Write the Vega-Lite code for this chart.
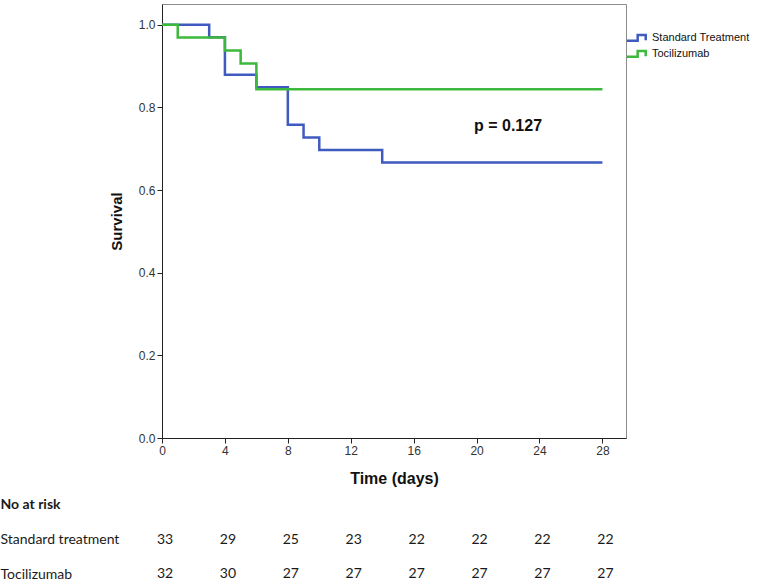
{
  "$schema": "https://vega.github.io/schema/vega-lite/v6.json",
  "padding": {"left": 0, "top": 3, "right": 0, "bottom": 0},
  "background": "white",
  "spacing": 10,
  "config": {
    "font": "Liberation Sans",
    "view": {"stroke": null}
  },
  "vconcat": [
    {
      "width": 464,
      "height": 434,
      "view": {"stroke": "#8c8c8c", "strokeWidth": 1},
      "layer": [
        {
          "data": {
            "values": [
              {"time": 0, "survival": 1.0, "group": "Standard Treatment"},
              {"time": 3, "survival": 0.9697, "group": "Standard Treatment"},
              {"time": 4, "survival": 0.8788, "group": "Standard Treatment"},
              {"time": 6, "survival": 0.8485, "group": "Standard Treatment"},
              {"time": 8, "survival": 0.7576, "group": "Standard Treatment"},
              {"time": 9, "survival": 0.7273, "group": "Standard Treatment"},
              {"time": 10, "survival": 0.697, "group": "Standard Treatment"},
              {"time": 14, "survival": 0.6667, "group": "Standard Treatment"},
              {"time": 28, "survival": 0.6667, "group": "Standard Treatment"},
              {"time": 0, "survival": 1.0, "group": "Tocilizumab"},
              {"time": 1, "survival": 0.9688, "group": "Tocilizumab"},
              {"time": 4, "survival": 0.9375, "group": "Tocilizumab"},
              {"time": 5, "survival": 0.9063, "group": "Tocilizumab"},
              {"time": 6, "survival": 0.8438, "group": "Tocilizumab"},
              {"time": 28, "survival": 0.8438, "group": "Tocilizumab"}
            ]
          },
          "mark": {"type": "line", "interpolate": "step-after", "strokeWidth": 2.5},
          "encoding": {
            "x": {
              "field": "time", "type": "quantitative",
              "scale": {"domain": [0, 29.5], "nice": false, "zero": false},
              "axis": {
                "values": [0, 4, 8, 12, 16, 20, 24, 28],
                "title": "Time (days)",
                "grid": false,
                "domainColor": "#222222",
                "tickColor": "#222222",
                "tickSize": 5,
                "labelFontSize": 12,
                "labelColor": "#333333",
                "labelPadding": 2,
                "labelFlush": false,
                "titleFontSize": 16,
                "titleFontWeight": "bold",
                "titleColor": "#111111",
                "titlePadding": 14
              }
            },
            "y": {
              "field": "survival", "type": "quantitative",
              "scale": {"domain": [0, 1.05], "nice": false},
              "axis": {
                "values": [0, 0.2, 0.4, 0.6, 0.8, 1.0],
                "format": ".1f",
                "title": "Survival",
                "grid": false,
                "domainColor": "#222222",
                "tickColor": "#222222",
                "tickSize": 5,
                "labelFontSize": 12,
                "labelColor": "#333333",
                "labelPadding": 2,
                "titleFontSize": 15,
                "titleFontWeight": "bold",
                "titleColor": "#111111",
                "titlePadding": 14
              }
            },
            "color": {
              "field": "group", "type": "nominal",
              "scale": {"domain": ["Standard Treatment", "Tocilizumab"], "range": ["#3f5bbf", "#3cb93c"]},
              "legend": {
                "title": null,
                "orient": "none",
                "legendX": 467,
                "legendY": 26,
                "padding": 0,
                "symbolType": "M-1.5,0.4H0.1V-0.45H1.3V0.35",
                "symbolSize": 180,
                "symbolStrokeWidth": 2.5,
                "symbolFillColor": "transparent",
                "labelFontSize": 11,
                "labelColor": "#111111",
                "labelOffset": 7,
                "rowPadding": -1
              }
            }
          }
        },
        {
          "data": {"values": [{"time": 22, "survival": 0.756, "label": "p = 0.127"}]},
          "mark": {"type": "text", "fontSize": 16, "fontWeight": "bold", "color": "#111111"},
          "encoding": {
            "x": {"field": "time", "type": "quantitative"},
            "y": {"field": "survival", "type": "quantitative"},
            "text": {"field": "label"}
          }
        }
      ]
    },
    {
      "width": 464,
      "height": 79,
      "data": {
        "values": [
          {"time": 0, "row": "Standard treatment", "n": 33},
          {"time": 4, "row": "Standard treatment", "n": 29},
          {"time": 8, "row": "Standard treatment", "n": 25},
          {"time": 12, "row": "Standard treatment", "n": 23},
          {"time": 16, "row": "Standard treatment", "n": 22},
          {"time": 20, "row": "Standard treatment", "n": 22},
          {"time": 24, "row": "Standard treatment", "n": 22},
          {"time": 28, "row": "Standard treatment", "n": 22},
          {"time": 0, "row": "Tocilizumab", "n": 32},
          {"time": 4, "row": "Tocilizumab", "n": 30},
          {"time": 8, "row": "Tocilizumab", "n": 27},
          {"time": 12, "row": "Tocilizumab", "n": 27},
          {"time": 16, "row": "Tocilizumab", "n": 27},
          {"time": 20, "row": "Tocilizumab", "n": 27},
          {"time": 24, "row": "Tocilizumab", "n": 27},
          {"time": 28, "row": "Tocilizumab", "n": 27}
        ]
      },
      "mark": {"type": "text", "font": "Lato", "fontSize": 14, "dx": 3, "color": "#1a1a1a"},
      "encoding": {
        "x": {"field": "time", "type": "quantitative", "scale": {"domain": [0, 29.5], "nice": false}, "axis": null},
        "y": {
          "field": "row", "type": "nominal",
          "scale": {"type": "point", "domain": ["No at risk", "Standard treatment", "Tocilizumab"], "padding": 0.144},
          "axis": {
            "title": null,
            "ticks": false,
            "domain": false,
            "grid": false,
            "labelAlign": "left",
            "labelPadding": 162,
            "labelFont": "Lato",
            "labelFontSize": 14,
            "labelColor": "#1a1a1a",
            "labelFontWeight": {"condition": {"test": "datum.value === 'No at risk'", "value": "bold"}, "value": "normal"}
          }
        },
        "text": {"field": "n", "type": "quantitative"}
      }
    }
  ]
}
